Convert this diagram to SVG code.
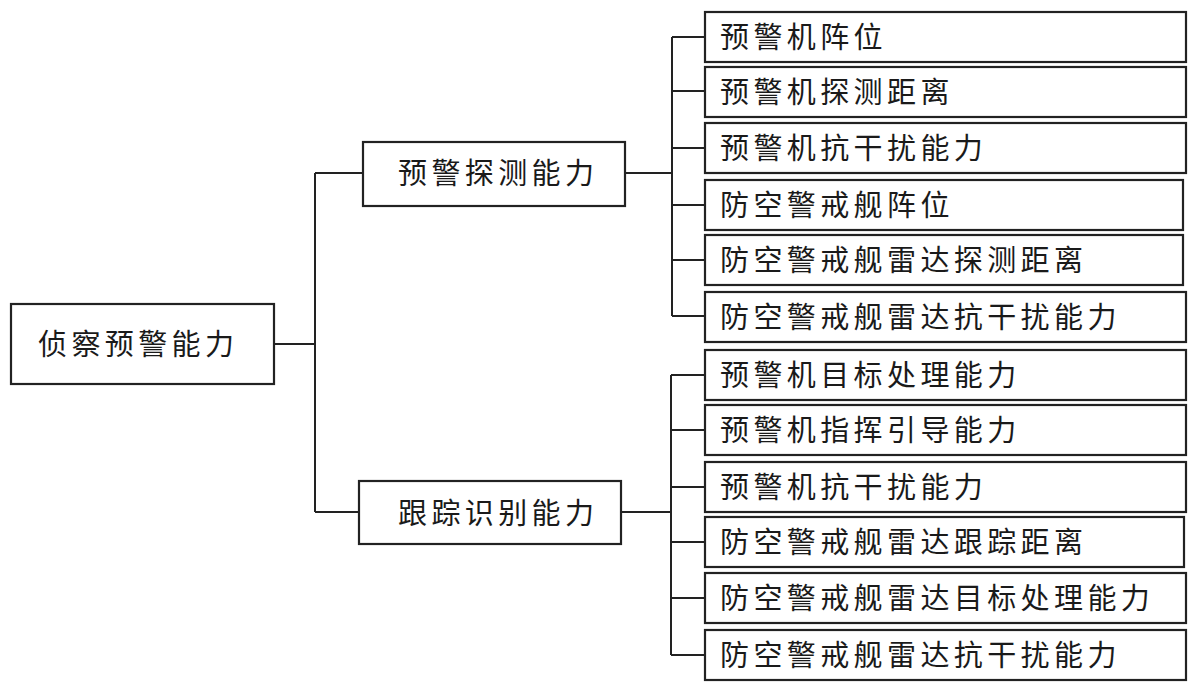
<svg xmlns="http://www.w3.org/2000/svg" width="1202" height="696" viewBox="0 0 1202 696">
<style>
rect{fill:#fff;stroke:#222;stroke-width:2.2}
#connectors path{fill:none;stroke:#222;stroke-width:2}
text{font-family:"Noto Sans CJK SC","Liberation Serif",serif;font-size:29px;fill:#1a1a1a;letter-spacing:4.4px;dominant-baseline:central}
</style>
<rect x="0" y="0" width="1202" height="696" style="fill:#fff;stroke:none"/>
<g id="connectors">
<path d="M274 344H315M315 173V512M315 173H363M315 512H359"/>
<path d="M625 173H672M672 37V316M672 37H705M672 91H705M672 148H705M672 205H705M672 260H705M672 316H705"/>
<path d="M621 512H671M671 375V655M671 375H705M671 430H705M671 487H705M671 542H705M671 598H705M671 655H705"/>
</g>
<g id="root"><rect x="11" y="304" width="263" height="80"/><text x="38" y="342">侦察预警能力</text></g>
<g id="mid1"><rect x="363" y="142" width="262" height="64"/><text x="398" y="171">预警探测能力</text></g>
<g id="mid2"><rect x="359" y="481" width="262" height="63"/><text x="398" y="511">跟踪识别能力</text></g>
<g id="a1"><rect x="705" y="12" width="481" height="50"/><text x="720" y="35">预警机阵位</text></g>
<g id="a2"><rect x="705" y="67" width="481" height="50"/><text x="720" y="90">预警机探测距离</text></g>
<g id="a3"><rect x="705" y="123" width="481" height="50"/><text x="720" y="146">预警机抗干扰能力</text></g>
<g id="a4"><rect x="705" y="180" width="478" height="50"/><text x="720" y="203">防空警戒舰阵位</text></g>
<g id="a5"><rect x="705" y="235" width="478" height="50"/><text x="720" y="258">防空警戒舰雷达探测距离</text></g>
<g id="a6"><rect x="705" y="292" width="481" height="50"/><text x="720" y="315">防空警戒舰雷达抗干扰能力</text></g>
<g id="b1"><rect x="705" y="350" width="481" height="50"/><text x="720" y="373">预警机目标处理能力</text></g>
<g id="b2"><rect x="705" y="405" width="481" height="50"/><text x="720" y="428">预警机指挥引导能力</text></g>
<g id="b3"><rect x="705" y="462" width="481" height="50"/><text x="720" y="485">预警机抗干扰能力</text></g>
<g id="b4"><rect x="705" y="517" width="479" height="50"/><text x="720" y="540">防空警戒舰雷达跟踪距离</text></g>
<g id="b5"><rect x="705" y="573" width="481" height="50"/><text x="720" y="596">防空警戒舰雷达目标处理能力</text></g>
<g id="b6"><rect x="705" y="630" width="481" height="50"/><text x="720" y="653">防空警戒舰雷达抗干扰能力</text></g>
</svg>
